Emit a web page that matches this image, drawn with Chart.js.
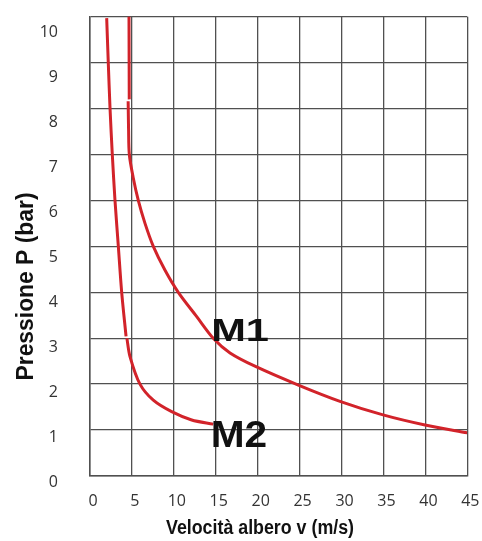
<!DOCTYPE html>
<html>
<head>
<meta charset="utf-8">
<title>Pressione / Velocità</title>
<script src="https://cdn.jsdelivr.net/npm/chart.js@4/dist/chart.umd.min.js"></script>
<style>
  html, body { margin: 0; padding: 0; background: #fff; }
  #wrap { width: 482px; height: 541px; }
</style>
</head>
<body>
<div id="wrap"><canvas id="chartPv"></canvas></div>
<script>
/* P-v curves, M1 / M2 */

// ticks
const xTicks = [0, 5, 10, 15, 20, 25, 30, 35, 40, 45];
const yTicks = [0, 1, 2, 3, 4, 5, 6, 7, 8, 9, 10];

// M1 curve (v m/s, P bar), null = break in the drawn line
const m1V = [4.65, 4.68, null, 4.55, 4.6, 4.69, 5.15, 5.76, 6.56, 7.55, 8.95, 10.53, 12.73, 14.7, 16.7, 19.8, 24.85, 29.9, 34.95, 39.96, 45];
const m1P = [10.04, 8.2, null, 8.16, 7.55, 7.0, 6.5, 6.0, 5.5, 5.0, 4.48, 4.0, 3.47, 3.0, 2.68, 2.38, 1.98, 1.62, 1.33, 1.11, 0.94];

// M2 curve
const m2V = [1.99, 2.18, 2.39, 2.66, 2.98, 3.38, 3.78, 4.3, null, 4.4, 4.77, 5.96, 7.55, 9.74, 12.13, 14.7];
const m2P = [9.97, 9.0, 8.0, 7.0, 6.0, 5.0, 4.0, 3.04, null, 3.0, 2.6, 2.0, 1.65, 1.4, 1.22, 1.13];

// curve labels
const curveNames = ['M1', 'M2'];
const nameV = [14.45, 14.4];
const nameP = [2.94, 0.64];

function $(sel, root = document) { return root.querySelector(sel); }

function toPoints(xs, ys) {
  return xs.map((x, i) => (x === null ? { x: NaN, y: NaN } : { x: x, y: ys[i] }));
}

const RED = '#d2232a';
const GRID = '#505050';

// draws axis titles and curve names as canvas text
const textPlugin = {
  id: 'pvText',
  afterDatasetsDraw(chart) {
    const ctx = chart.ctx;
    const xs = chart.scales.x;
    const ys = chart.scales.y;

    const fitText = (txt, font, width) => {
      ctx.font = font;
      return width / ctx.measureText(txt).width;
    };

    ctx.save();
    ctx.fillStyle = '#111';
    ctx.textBaseline = 'alphabetic';
    ctx.textAlign = 'center';

    // x title
    const xt = 'Velocità albero v (m/s)';
    const xf = 'bold 20px "Liberation Sans", Arial, sans-serif';
    const xk = fitText(xt, xf, 188);
    ctx.save();
    ctx.translate(260, 534);
    ctx.scale(xk, 1);
    ctx.fillText(xt, 0, 0);
    ctx.restore();

    // y title
    const yt = 'Pressione P (bar)';
    const yf = 'bold 23px "Liberation Sans", Arial, sans-serif';
    const yk = fitText(yt, yf, 188);
    ctx.save();
    ctx.translate(33, 286.5);
    ctx.rotate(-Math.PI / 2);
    ctx.scale(yk, 1);
    ctx.fillText(yt, 0, 0);
    ctx.restore();

    // curve names
    ctx.textAlign = 'left';
    const sizes = [32, 36];
    const stretch = [1.3, 1.13];
    curveNames.forEach((name, i) => {
      ctx.save();
      ctx.font = 'bold ' + sizes[i] + 'px "Liberation Sans", Arial, sans-serif';
      ctx.translate(xs.getPixelForValue(nameV[i]), ys.getPixelForValue(nameP[i]));
      ctx.scale(stretch[i], 1);
      ctx.fillText(name, 0, 0);
      ctx.restore();
    });
    ctx.restore();
  }
};

// keep the tick labels from pushing the plot area around
function noScalePadding(s) {
  s.paddingTop = 0;
  s.paddingBottom = 0;
  s.paddingLeft = 0;
  s.paddingRight = 0;
}

function setupChart() {
  const el = $('#chartPv');
  if (!el || !window.Chart) return;

  const tickFont = { family: '"Open Sans", "Noto Sans", sans-serif', size: 16 };

  const chart = new Chart(el, {
    type: 'scatter',
    data: {
      datasets: [
        {
          label: curveNames[0],
          data: toPoints(m1V, m1P),
          showLine: true,
          spanGaps: false,
          borderColor: RED,
          borderWidth: 3,
          pointRadius: 0,
          tension: 0.3
        },
        {
          label: curveNames[1],
          data: toPoints(m2V, m2P),
          showLine: true,
          spanGaps: false,
          borderColor: RED,
          borderWidth: 3,
          pointRadius: 0,
          tension: 0.3
        }
      ]
    },
    options: {
      responsive: true,
      maintainAspectRatio: false,
      animation: false,
      layout: { padding: { top: 16.7, right: 14.7, left: 0, bottom: 0 } },
      plugins: { legend: { display: false }, tooltip: { enabled: false } },
      scales: {
        x: {
          type: 'linear',
          min: xTicks[0],
          max: xTicks[xTicks.length - 1],
          afterBuildTicks: (s) => { s.ticks = xTicks.map(v => ({ value: v })); },
          afterFit: (s) => { s.height = 65; noScalePadding(s); },
          grid: { color: GRID, lineWidth: 1.3, drawTicks: false },
          border: { color: GRID, width: 1.5 },
          ticks: { font: tickFont, color: '#333', padding: 16, labelOffset: 3, maxRotation: 0, autoSkip: false }
        },
        // grid + data axis, labels come from yLab
        y: {
          type: 'linear',
          position: 'left',
          weight: 1,
          min: yTicks[0],
          max: yTicks[yTicks.length - 1],
          afterBuildTicks: (s) => { s.ticks = yTicks.map(v => ({ value: v })); },
          afterFit: (s) => { s.width = 0; noScalePadding(s); },
          grid: { color: GRID, lineWidth: 1.3, drawTicks: false },
          border: { color: GRID, width: 1.5 },
          ticks: { display: false }
        },
        // label-only axis: the printed numbers sit on a slightly tighter pitch than the grid
        yLab: {
          type: 'linear',
          position: 'left',
          weight: 2,
          min: 0.144,
          max: 10.351,
          afterBuildTicks: (s) => { s.ticks = yTicks.map(v => ({ value: v })); },
          afterFit: (s) => { s.width = 90; noScalePadding(s); },
          grid: { display: false, drawTicks: false },
          border: { display: false },
          ticks: { font: tickFont, color: '#333', padding: 32, autoSkip: false }
        }
      }
    },
    plugins: [textPlugin]
  });
  void chart;
}

document.addEventListener('DOMContentLoaded', setupChart);
</script>
</body>
</html>
